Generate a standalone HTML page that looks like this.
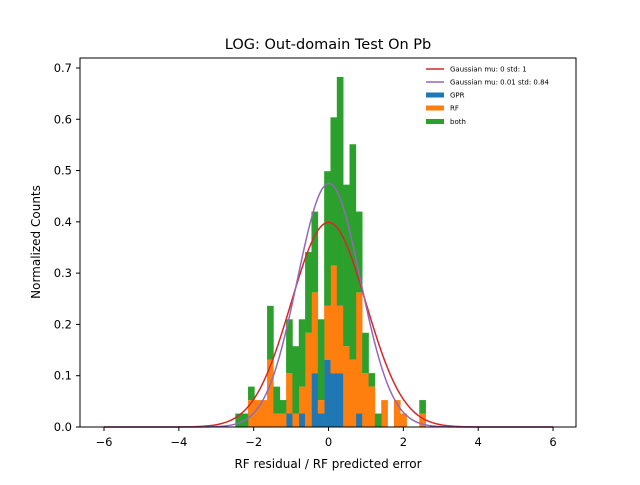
<!DOCTYPE html>
<html><head><meta charset="utf-8"><style>
body{margin:0;background:#fff}
svg text{font-family:"DejaVu Sans","Liberation Sans",sans-serif}
</style></head><body>
<svg id="chart" width="640" height="480" xmlns="http://www.w3.org/2000/svg">
<rect width="640" height="480" fill="#fff"/>
<g id="bars"></g>
<g id="curves"></g>
<rect x="80" y="58" width="496" height="369" fill="none" stroke="#000" stroke-width="1"/>
<g id="axes"></g>
<text x="328" y="49" text-anchor="middle" font-size="14.5">LOG: Out-domain Test On Pb</text>
<text x="328" y="468" text-anchor="middle" font-size="12">RF residual / RF predicted error</text>
<text transform="translate(40,242) rotate(-90)" text-anchor="middle" font-size="12">Normalized Counts</text>
<g font-size="7">
<g><line x1="426" y1="69" x2="444" y2="69" stroke="#d62728" stroke-width="1.5"/><text x="450" y="71.5">Gaussian mu: 0 std: 1</text></g>
<g><line x1="426" y1="82" x2="444" y2="82" stroke="#9467bd" stroke-width="1.5"/><text x="450" y="84.5">Gaussian mu: 0.01 std: 0.84</text></g>
<g><rect x="426" y="92.5" width="18" height="5" fill="#1f77b4"/><text x="450" y="97.5">GPR</text></g>
<g><rect x="426" y="105.5" width="18" height="5" fill="#ff7f0e"/><text x="450" y="110.5">RF</text></g>
<g><rect x="426" y="119" width="18" height="5" fill="#2ca02c"/><text x="450" y="124">both</text></g>
</g>
</svg>
<script>
const binStart = -2.49;
const binWidth = 0.1695;
const unit = 0.02625;
const gprCounts  = [0,0,0,0,0,0,0,0,1,0,1,0,4,1,5,4,4,0,0,1,0,0,0,0,0,0,0,0,0,0];
const rfCounts   = [0,0,2,2,2,5,1,1,3,1,2,7,6,1,4,8,5,6,5,9,4,3,0,2,0,2,1,0,0,1];
const bothCounts = [1,1,1,0,0,4,2,1,4,5,5,6,6,6,10,11,17,12,16,6,3,1,1,0,0,0,0,0,0,1];
const xTicks = [-6,-4,-2,0,2,4,6];
const yTicks = [0,0.1,0.2,0.3,0.4,0.5,0.6,0.7];
const gaussMu = [0, 0.01];
const gaussStd = [1, 0.84];
const gaussColors = ['#d62728','#9467bd'];

const NS='http://www.w3.org/2000/svg';
const X = v => 104 + (v + 6) * 37.42;
const Y = v => 427 - v * 512.9;
const bars = document.getElementById('bars');
const layers = [[gprCounts,'#1f77b4','gpr'],[rfCounts,'#ff7f0e','rf'],[bothCounts,'#2ca02c','both']];
const base = new Array(gprCounts.length).fill(0);
layers.forEach(([arr,col,nm])=>{
  arr.forEach((c,i)=>{
    if(c>0){
      const x0=binStart+i*binWidth;
      const r=document.createElementNS(NS,'rect');
      
      
      r.setAttribute('x',X(x0));
      r.setAttribute('width',X(x0+binWidth)-X(x0)+0.3);
      r.setAttribute('y',Y((base[i]+c)*unit));
      r.setAttribute('height',Y(base[i]*unit)-Y((base[i]+c)*unit));
      r.setAttribute('fill',col);
      bars.appendChild(r);
    }
    base[i]+=c;
  });
});
const curves=document.getElementById('curves');
gaussMu.forEach((mu,k)=>{
  const sd=gaussStd[k];let d='';
  for(let j=0;j<=600;j++){const x=-6+12*j/600;const y=Math.exp(-0.5*((x-mu)/sd)**2)/(sd*Math.sqrt(2*Math.PI));d+=(j?'L':'M')+X(x).toFixed(2)+' '+Y(y).toFixed(2);}
  const p=document.createElementNS(NS,'path');
  
  
  p.setAttribute('d',d);p.setAttribute('fill','none');p.setAttribute('stroke',gaussColors[k]);p.setAttribute('stroke-width','1.5');
  curves.appendChild(p);
});
const axes=document.getElementById('axes');
xTicks.forEach(t=>{
  const l=document.createElementNS(NS,'line');
  
  
  l.setAttribute('x1',X(t));l.setAttribute('x2',X(t));l.setAttribute('y1',427);l.setAttribute('y2',431);l.setAttribute('stroke','#000');
  axes.appendChild(l);
  const tx=document.createElementNS(NS,'text');
  
  
  tx.setAttribute('x',X(t));tx.setAttribute('y',446);tx.setAttribute('text-anchor','middle');tx.setAttribute('font-size','11.5');
  tx.textContent=(t<0?'\u2212':'')+Math.abs(t);
  axes.appendChild(tx);
});
yTicks.forEach(t=>{
  const l=document.createElementNS(NS,'line');
  
  
  l.setAttribute('x1',76);l.setAttribute('x2',80);l.setAttribute('y1',Y(t));l.setAttribute('y2',Y(t));l.setAttribute('stroke','#000');
  axes.appendChild(l);
  const tx=document.createElementNS(NS,'text');
  
  
  tx.setAttribute('x',72);tx.setAttribute('y',Y(t)+4);tx.setAttribute('text-anchor','end');tx.setAttribute('font-size','11.5');
  tx.textContent=t.toFixed(1);
  axes.appendChild(tx);
});
</script>
</body></html>
